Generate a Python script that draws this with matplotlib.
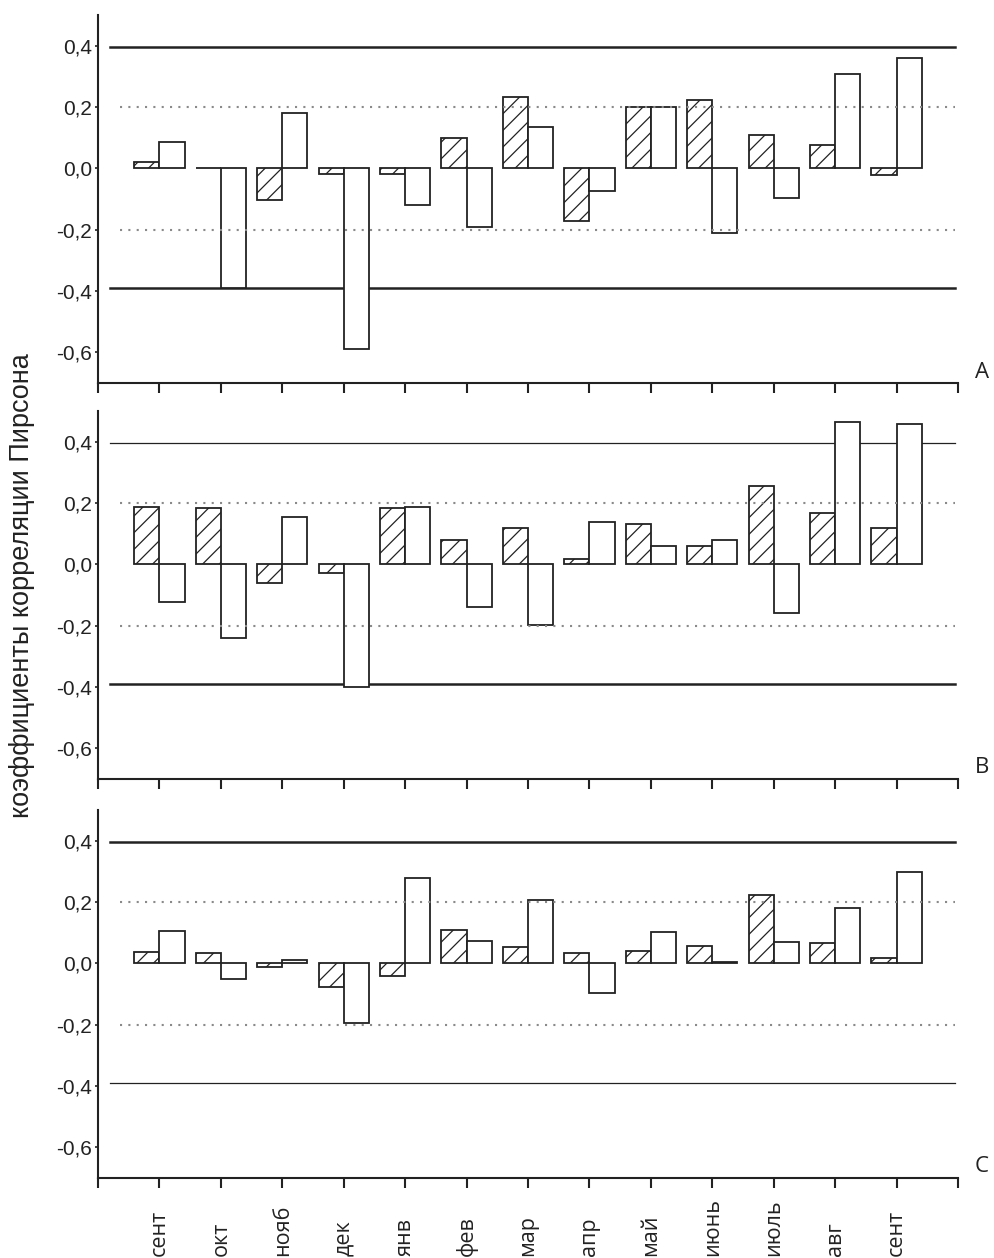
import matplotlib
matplotlib.use("Agg")
import matplotlib.pyplot as plt
import numpy as np

months = ["сент", "окт", "нояб", "дек", "янв", "фев", "мар",
          "апр", "май", "июнь", "июль", "авг", "сент"]

# hatched bars (left) and open bars (right) for each panel
a_hatch = [0.022, 0.0, -0.103, -0.018, -0.018, 0.100, 0.232,
           -0.172, 0.199, 0.223, 0.109, 0.076, -0.022]
a_open = [0.087, -0.391, 0.180, -0.590, -0.120, -0.190, 0.136,
          -0.073, 0.199, -0.212, -0.098, 0.308, 0.361]

b_hatch = [0.188, 0.183, -0.060, -0.029, 0.183, 0.079, 0.117,
           0.017, 0.130, 0.061, 0.257, 0.166, 0.117]
b_open = [-0.124, -0.239, 0.155, -0.400, 0.186, -0.138, -0.198,
          0.137, 0.061, 0.079, -0.160, 0.465, 0.458]

c_hatch = [0.036, 0.034, -0.011, -0.076, -0.042, 0.109, 0.054,
           0.034, 0.041, 0.055, 0.223, 0.066, 0.016]
c_open = [0.104, -0.051, 0.011, -0.196, 0.277, 0.074, 0.208,
          -0.098, 0.101, 0.003, 0.068, 0.179, 0.299]

panels = [("A", a_hatch, a_open), ("B", b_hatch, b_open), ("C", c_hatch, c_open)]
# line widths of the +/- significance lines in each panel
sig_lw = [(1.8, 1.8), (0.9, 1.8), (1.8, 0.9)]

yticks = [-0.6, -0.4, -0.2, 0.0, 0.2, 0.4]
ytick_labels = ["-0,6", "-0,4", "-0,2", "0,0", "0,2", "0,4"]

plt.rcParams['hatch.linewidth'] = 0.9

fig = plt.figure(figsize=(9.95, 12.58), dpi=100, facecolor='w')

left, width = 0.0985, 0.8643
bottoms = [0.6955, 0.3808, 0.0636]
height = 0.2925

x = np.arange(1, len(months) + 1)
w = 0.41

axes = []
for k, (name, hv, ov) in enumerate(panels):
    ax = fig.add_axes([left, bottoms[k], width, height])
    axes.append(ax)
    ax.bar(x - w / 2, hv, width=w, facecolor='white', edgecolor='#222222',
           hatch='//', linewidth=1.3, zorder=3)
    ax.bar(x + w / 2, ov, width=w, facecolor='white', edgecolor='#222222',
           linewidth=1.3, zorder=3)

    ax.axhline(0.395, xmin=0.2 / 14, xmax=13.95 / 14, color='#222222',
               linewidth=sig_lw[k][0], zorder=2)
    ax.axhline(-0.39, xmin=0.2 / 14, xmax=13.95 / 14, color='#222222',
               linewidth=sig_lw[k][1], zorder=2)
    for yv in (0.2, -0.2):
        ax.axhline(yv, xmin=0.35 / 14, xmax=13.95 / 14, color='#8a8a8a',
                   linewidth=1.5, linestyle=(0, (1, 3)), zorder=4)

    ax.set_xlim(0, 14)
    ax.set_ylim(-0.7, 0.5)
    ax.spines['top'].set_visible(False)
    ax.spines['right'].set_visible(False)
    ax.spines['left'].set_linewidth(1.5)
    ax.spines['bottom'].set_linewidth(1.5)
    ax.spines['left'].set_color('#222222')
    ax.spines['bottom'].set_color('#222222')

    ax.set_xticks(np.arange(0, 15))
    ax.set_xticklabels([])
    ax.tick_params(axis='x', direction='out', length=7, width=1.5, color='#222222')
    ax.set_yticks(yticks)
    ax.set_yticklabels(ytick_labels, fontsize=15, family='Liberation Sans', color='#222222')
    ax.tick_params(axis='y', direction='out', length=2.5, width=1.2, pad=2, color='#222222')

    ax.text(1.028, 0.03, name, transform=ax.transAxes, fontsize=16,
            family='Open Sans', ha='center', va='center', color='#222222')

# month labels below the bottom panel, aligned at their start
axc = axes[-1]
for xi, m in zip(x, months):
    axc.text(xi, -0.212, m, transform=axc.get_xaxis_transform(), rotation=90,
             ha='center', va='bottom', fontsize=15.5, family='Open Sans', color='#222222')

fig.text(0.022, 1 - 586 / 1258, "коэффициенты корреляции Пирсона", rotation=90,
         ha='center', va='center', fontsize=19.5, family='Liberation Sans', color='#222222')

plt.savefig('out.png', dpi=100)
